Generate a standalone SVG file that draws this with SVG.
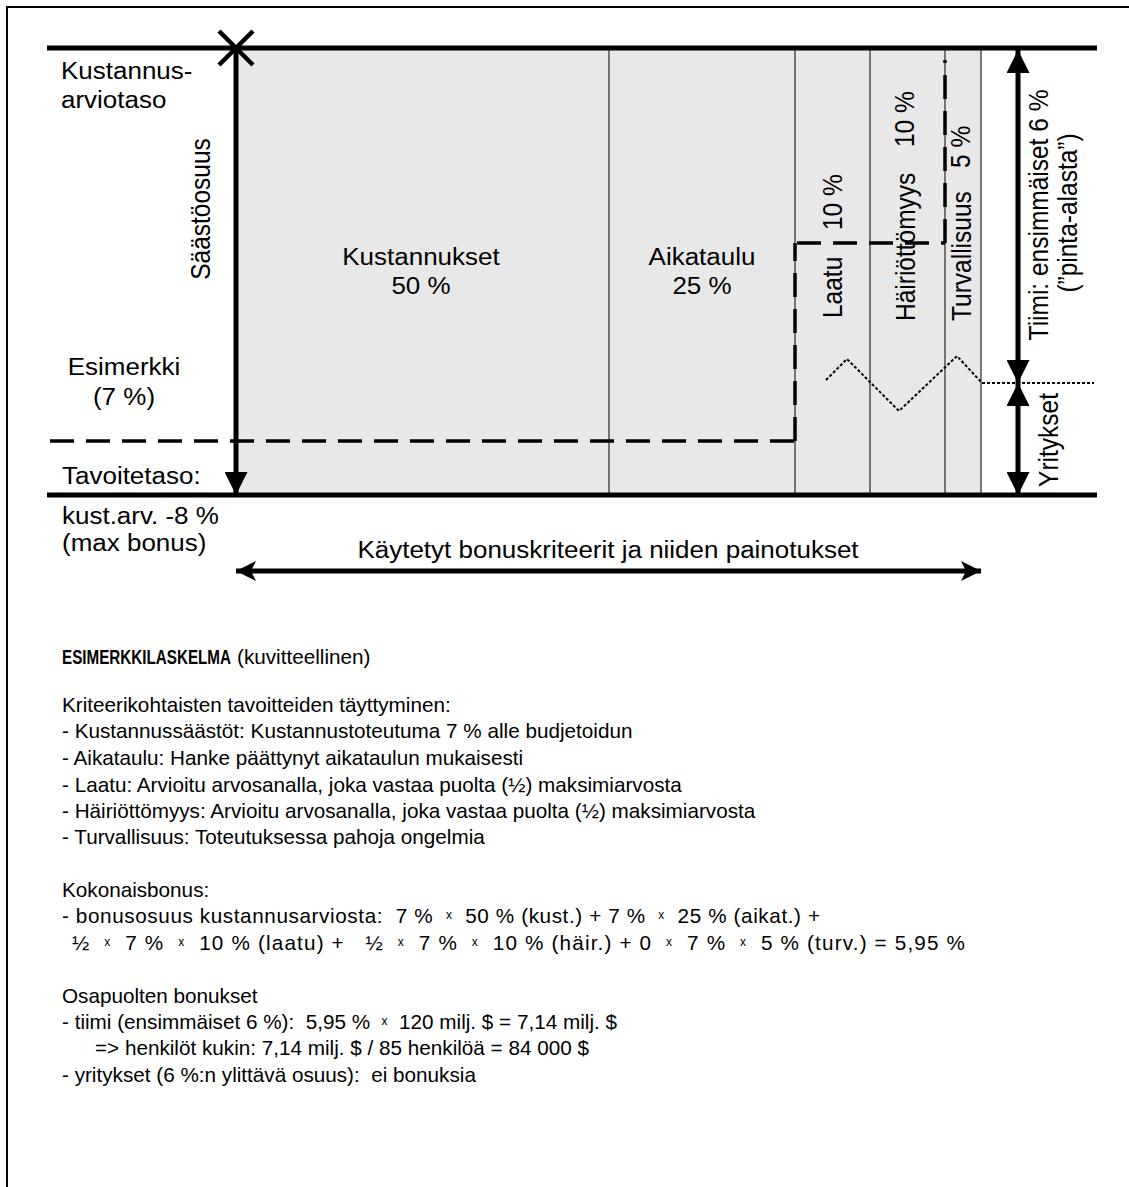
<svg xmlns="http://www.w3.org/2000/svg" width="1129" height="1187" viewBox="0 0 1129 1187">
  <style>
    text { font-family: "Liberation Sans", Arial, sans-serif; font-size: 20.7px; fill: #000; white-space: pre; }
    .lab { font-size: 23px; }
    .vlab { font-size: 24.5px; }
    .mid { text-anchor: middle; }
    .b { font-weight: bold; }
    .sx { font-size: 12px; baseline-shift: 35%; }
    .thick { stroke: #000; stroke-width: 5; fill: none; }
    .thin { stroke: #000; stroke-width: 1; fill: none; }
    .dash { stroke: #000; stroke-width: 3.5; fill: none; stroke-dasharray: 24 12; }
    .dot { stroke: #000; stroke-width: 2; fill: none; stroke-dasharray: 3 2; }
  </style>
  <defs>
    <marker id="head" viewBox="0 0 10 10" refX="10" refY="5" markerWidth="4.6" markerHeight="4.6" orient="auto-start-reverse" markerUnits="strokeWidth">
      <path d="M0,0 L10,5 L0,10 Z" fill="#000"/>
    </marker>
    <marker id="stealth" viewBox="0 0 10 10" refX="10" refY="5" markerWidth="4" markerHeight="5" orient="auto-start-reverse" markerUnits="strokeWidth">
      <path d="M0,0 L10,5 L0,10 L2.5,5 Z" fill="#000"/>
    </marker>
  </defs>

  <!-- page frame -->
  <path d="M7,1187 V7 H1129" stroke="#000" stroke-width="2" fill="none"/>

  <!-- cost band split into criteria columns -->
  <g id="band">
    <rect x="236" y="48" width="745" height="447" fill="#e8e8e8"/>
    <line class="thin" x1="609" y1="48" x2="609" y2="495"/>
    <line class="thin" x1="795" y1="48" x2="795" y2="495"/>
    <line class="thin" x1="870" y1="48" x2="870" y2="495"/>
    <line class="thin" x1="945" y1="48" x2="945" y2="495"/>
    <line class="thin" x1="981" y1="48" x2="981" y2="495"/>
  </g>

  <!-- estimate level and target level -->
  <g id="levels">
    <line class="thick" x1="47" y1="48" x2="1097" y2="48"/>
    <line class="thick" x1="47" y1="495" x2="1097" y2="495"/>
  </g>

  <g id="connectors">
    <!-- saving share arrow -->
    <line class="thick" x1="236" y1="48" x2="236" y2="495" marker-end="url(#head)"/>
    <path d="M219,31 L253,65 M253,31 L219,65" stroke="#000" stroke-width="4.5"/>
    <!-- example level -->
    <path class="dash" d="M50,441 H795"/>
    <path class="dash" d="M795,441 V243"/>
    <path class="dash" d="M797,243 H945"/>
    <path class="dash" d="M945,243 V60"/>
    <!-- team / companies split -->
    <path class="dot" d="M826,380 L847,359 L899,411 L957,356 L982,383 H1094"/>
    <line class="thick" x1="1018" y1="50" x2="1018" y2="383" marker-start="url(#head)" marker-end="url(#head)"/>
    <line class="thick" x1="1018" y1="383" x2="1018" y2="495" marker-start="url(#head)" marker-end="url(#head)"/>
    <!-- criteria span -->
    <line class="thick" x1="236" y1="571" x2="981" y2="571" marker-start="url(#stealth)" marker-end="url(#stealth)"/>
  </g>

  <g id="labels-left">
    <text class="lab" transform="matrix(1.13 0 0 1 61 79)">Kustannus-</text>
    <text class="lab" transform="matrix(1.13 0 0 1 61 108)">arviotaso</text>
    <text class="lab mid" transform="matrix(1.13 0 0 1 124 375)">Esimerkki</text>
    <text class="lab mid" transform="matrix(1.13 0 0 1 124 405)">(7 %)</text>
    <text class="lab" transform="matrix(1.13 0 0 1 62 484)">Tavoitetaso:</text>
    <text class="lab" transform="matrix(1.13 0 0 1 62 524)">kust.arv. -8 %</text>
    <text class="lab" transform="matrix(1.13 0 0 1 62 551)">(max bonus)</text>
    <text class="vlab mid" transform="translate(210,209) scale(1.15,1) rotate(-90)">Säästöosuus</text>
  </g>

  <g id="criteria">
    <text class="lab mid" transform="matrix(1.13 0 0 1 421 265)">Kustannukset</text>
    <text class="lab mid" transform="matrix(1.13 0 0 1 421 294)">50 %</text>
    <text class="lab mid" transform="matrix(1.13 0 0 1 702 265)">Aikataulu</text>
    <text class="lab mid" transform="matrix(1.13 0 0 1 702 294)">25 %</text>
    <text class="vlab" transform="translate(842,318) scale(1.15,1) rotate(-90)">Laatu</text>
    <text class="vlab" transform="translate(842,230) scale(1.15,1) rotate(-90)">10 %</text>
    <text class="vlab" transform="translate(915,321) scale(1.15,1) rotate(-90)">Häiriöttömyys</text>
    <text class="vlab" transform="translate(914,147) scale(1.15,1) rotate(-90)">10 %</text>
    <text class="vlab" transform="translate(971,321) scale(1.15,1) rotate(-90)">Turvallisuus</text>
    <text class="vlab" transform="translate(970,168) scale(1.15,1) rotate(-90)">5 %</text>
  </g>

  <g id="labels-right">
    <text class="vlab mid" transform="translate(1048,215) scale(1.15,1) rotate(-90)">Tiimi: ensimmäiset 6 %</text>
    <text class="vlab mid" transform="translate(1077,213) scale(1.15,1) rotate(-90)">(”pinta-alasta”)</text>
    <text class="vlab mid" transform="translate(1058,440) scale(1.15,1) rotate(-90)">Yritykset</text>
    <text class="lab mid" transform="matrix(1.13 0 0 1 608 558)">Käytetyt bonuskriteerit ja niiden painotukset</text>
  </g>

  <g id="calculation">
    <text class="b" transform="matrix(0.735 0 0 1 62 664)">ESIMERKKILASKELMA</text>
    <text x="237" y="664">(kuvitteellinen)</text>
    <text x="62" y="712">Kriteerikohtaisten tavoitteiden täyttyminen:</text>
    <text x="62" y="738">- Kustannussäästöt: Kustannustoteutuma 7 % alle budjetoidun</text>
    <text x="62" y="765">- Aikataulu: Hanke päättynyt aikataulun mukaisesti</text>
    <text x="62" y="792">- Laatu: Arvioitu arvosanalla, joka vastaa puolta (½) maksimiarvosta</text>
    <text x="62" y="818">- Häiriöttömyys: Arvioitu arvosanalla, joka vastaa puolta (½) maksimiarvosta</text>
    <text x="62" y="844">- Turvallisuus: Toteutuksessa pahoja ongelmia</text>
    <text x="62" y="897">Kokonaisbonus:</text>
    <text x="62" y="923" textLength="758" lengthAdjust="spacing">- bonusosuus kustannusarviosta:  7 %  <tspan class="sx">x</tspan>  50 % (kust.) + 7 %  <tspan class="sx">x</tspan>  25 % (aikat.) +</text>
    <text x="72" y="950" textLength="893" lengthAdjust="spacing">½  <tspan class="sx">x</tspan>  7 %  <tspan class="sx">x</tspan>  10 % (laatu) +   ½  <tspan class="sx">x</tspan>  7 %  <tspan class="sx">x</tspan>  10 % (häir.) + 0  <tspan class="sx">x</tspan>  7 %  <tspan class="sx">x</tspan>  5 % (turv.) = 5,95 %</text>
    <text x="62" y="1003">Osapuolten bonukset</text>
    <text x="62" y="1029">- tiimi (ensimmäiset 6 %):  5,95 %  <tspan class="sx">x</tspan>  120 milj. $ = 7,14 milj. $</text>
    <text x="95" y="1055">=&gt; henkilöt kukin: 7,14 milj. $ / 85 henkilöä = 84 000 $</text>
    <text x="62" y="1082">- yritykset (6 %:n ylittävä osuus):  ei bonuksia</text>
  </g>
</svg>
